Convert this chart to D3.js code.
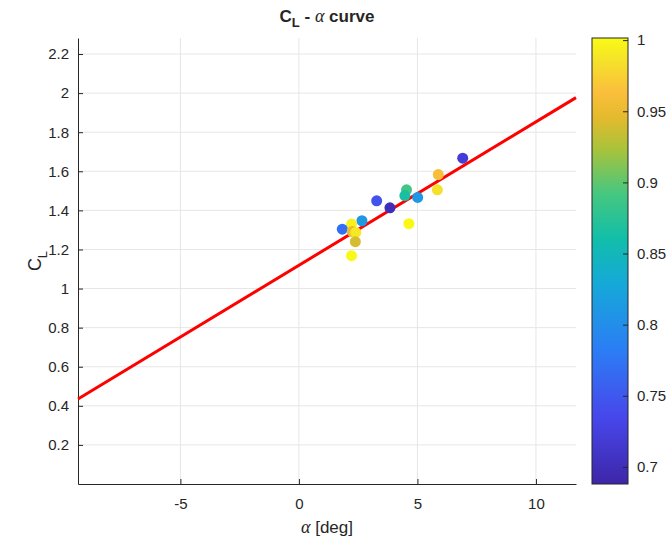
<html>
<head>
<meta charset="utf-8">
<title>CL - alpha curve</title>
<script src="https://d3js.org/d3.v7.min.js"></script>
<style>
  body { margin: 0; background: #fff; }
  svg text { font-family: "Liberation Sans", Arial, sans-serif; fill: #262626; }
</style>
</head>
<body>
<div id="chart"></div>
<script>
// measured points: angle of attack, lift coefficient, colour value
var alphaDeg = [6.91, 5.88, 5.84, 4.54, 4.47, 5.01, 3.28, 3.84, 2.66, 4.64, 2.22, 1.83, 2.25, 2.40, 2.38, 2.22];
var cl       = [1.667, 1.583, 1.505, 1.505, 1.476, 1.466, 1.449, 1.413, 1.347, 1.332, 1.330, 1.304, 1.292, 1.287, 1.240, 1.168];
var cval     = [0.72, 0.96, 0.985, 0.89, 0.865, 0.81, 0.745, 0.70, 0.81, 1.0, 0.995, 0.77, 0.95, 0.99, 0.94, 1.0];

// fitted line end points
var fitAlpha = [-9.32, 11.69];
var fitCL = [0.435, 1.977];

var xTicks = [-5, 0, 5, 10];
var yTicks = [0.2, 0.4, 0.6, 0.8, 1, 1.2, 1.4, 1.6, 1.8, 2, 2.2];
var cTicks = [0.7, 0.75, 0.8, 0.85, 0.9, 0.95, 1];

var width = 668, height = 546;
var pLeft = 78, pRight = 576, pTop = 38, pBottom = 484;

var svg = d3.select("#chart").append("svg")
    .attr("width", width)
    .attr("height", height);

var x = d3.scaleLinear().domain([-9.32, 11.69]).range([pLeft, pRight]);
var y = d3.scaleLinear().domain([0, 2.282]).range([pBottom, pTop]);

// parula-like colormap
var parulaStops = ["#3e26a8", "#4747eb", "#2c7df5", "#15a9d8", "#12bea9", "#45c780", "#a8c33b", "#e3ba2d", "#fbbf3c", "#f5e22a", "#f9fb15"];
var parulaPos = [0, 0.15, 0.3, 0.45, 0.55, 0.65, 0.75, 0.82, 0.88, 0.95, 1];
var parula = d3.scaleLinear().domain(parulaPos).range(parulaStops).interpolate(d3.interpolateRgb);
var cmin = 0.688, cmax = 1.0015;
var cnorm = d3.scaleLinear().domain([cmin, cmax]).range([0, 1]).clamp(true);
function colorOf(v) { return parula(cnorm(v)); }

var fmt = function(d) { return String(d); };

// grid
svg.append("g").selectAll("line").data(xTicks).enter().append("line")
    .attr("x1", function(d) { return x(d); }).attr("x2", function(d) { return x(d); })
    .attr("y1", pTop).attr("y2", pBottom)
    .attr("stroke", "#e6e6e6").attr("stroke-width", 1);
svg.append("g").selectAll("line").data(yTicks).enter().append("line")
    .attr("y1", function(d) { return y(d); }).attr("y2", function(d) { return y(d); })
    .attr("x1", pLeft).attr("x2", pRight)
    .attr("stroke", "#e6e6e6").attr("stroke-width", 1);

// axes
var xAxis = svg.append("g")
    .attr("transform", "translate(0," + pBottom + ")")
    .call(d3.axisBottom(x).tickValues(xTicks).tickFormat(fmt).tickSizeInner(-5).tickSizeOuter(0).tickPadding(14));
var yAxis = svg.append("g")
    .attr("transform", "translate(" + pLeft + ",0)")
    .call(d3.axisLeft(y).tickValues(yTicks).tickFormat(fmt).tickSizeInner(-5).tickSizeOuter(0).tickPadding(9));
[xAxis, yAxis].forEach(function(a) {
    a.select(".domain").attr("stroke", "#262626").attr("stroke-width", 1);
    a.selectAll(".tick line").attr("stroke", "#262626");
    a.selectAll(".tick text").style("font-size", "15px").attr("fill", "#262626");
});

// fit line
svg.append("path")
    .datum(d3.zip(fitAlpha, fitCL))
    .attr("fill", "none")
    .attr("stroke", "#ff0000")
    .attr("stroke-width", 3)
    .attr("d", d3.line()
        .x(function(d) { return x(d[0]); })
        .y(function(d) { return y(d[1]); }));

// points
svg.append("g").selectAll("circle")
    .data(d3.range(alphaDeg.length))
    .enter().append("circle")
    .attr("cx", function(i) { return x(alphaDeg[i]); })
    .attr("cy", function(i) { return y(cl[i]); })
    .attr("r", 5.5)
    .attr("fill", function(i) { return colorOf(cval[i]); });

// title
var title = svg.append("text")
    .attr("x", (pLeft + pRight) / 2).attr("y", 22)
    .attr("text-anchor", "middle")
    .style("font-size", "17px").style("font-weight", "bold");
title.append("tspan").text("C");
title.append("tspan").attr("dy", 5).style("font-size", "13px").text("L");
title.append("tspan").attr("dy", -5).text(" - ");
title.append("tspan").style("font-family", "'Liberation Serif', serif").style("font-style", "italic").style("font-weight", "normal").style("font-size", "18px").text("α");
title.append("tspan").text(" curve");

// x label
var xl = svg.append("text")
    .attr("x", (pLeft + pRight) / 2).attr("y", 533)
    .attr("text-anchor", "middle")
    .style("font-size", "17px");
xl.append("tspan").style("font-family", "'Liberation Serif', serif").style("font-style", "italic").style("font-size", "18px").text("α");
xl.append("tspan").text(" [deg]");

// y label
var yl = svg.append("text")
    .attr("transform", "translate(41," + ((pTop + pBottom) / 2) + ") rotate(-90)")
    .attr("text-anchor", "middle")
    .style("font-size", "18px");
yl.append("tspan").text("C");
yl.append("tspan").attr("dy", 6).style("font-size", "13px").text("L");

// colorbar
var cbLeft = 592, cbWidth = 36;
var cy = d3.scaleLinear().domain([cmin, cmax]).range([pBottom, pTop]);
var defs = svg.append("defs");
var grad = defs.append("linearGradient").attr("id", "cbgrad")
    .attr("x1", 0).attr("y1", 1).attr("x2", 0).attr("y2", 0);
grad.selectAll("stop").data(parulaPos).enter().append("stop")
    .attr("offset", function(d) { return d; })
    .attr("stop-color", function(d, i) { return parulaStops[i]; });
svg.append("rect")
    .attr("x", cbLeft).attr("y", pTop)
    .attr("width", cbWidth).attr("height", pBottom - pTop)
    .attr("fill", "url(#cbgrad)")
    .attr("stroke", "#262626").attr("stroke-width", 1);
var cAxis = svg.append("g")
    .attr("transform", "translate(" + (cbLeft + cbWidth) + ",0)")
    .call(d3.axisRight(cy).tickValues(cTicks).tickFormat(fmt)
        .tickSizeInner(-5).tickSizeOuter(0).tickPadding(9));
cAxis.select(".domain").remove();
cAxis.selectAll(".tick line").attr("stroke", "#262626");
cAxis.selectAll(".tick text").style("font-size", "15px").attr("fill", "#262626");
</script>
</body>
</html>
